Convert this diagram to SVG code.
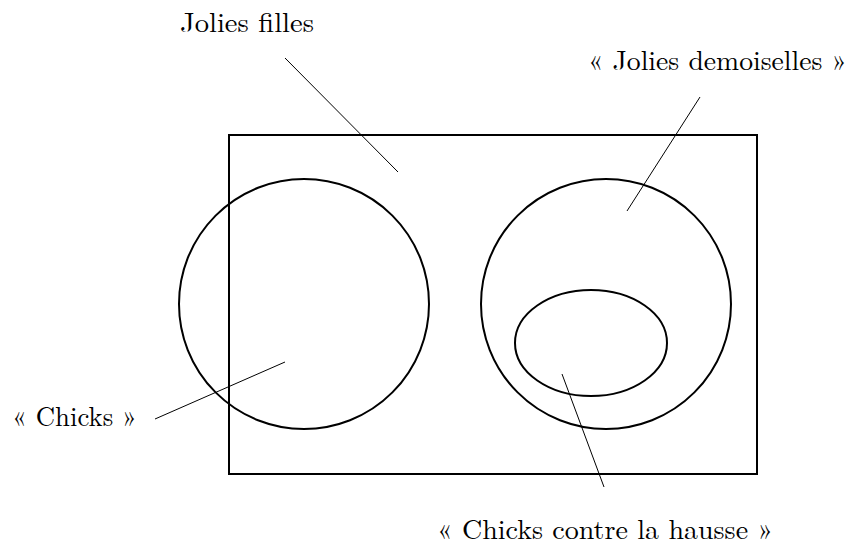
<svg xmlns="http://www.w3.org/2000/svg" width="852" height="546" viewBox="0 0 852 546">
<style>
.shape{fill:none;stroke:#000;stroke-width:2}
.lead{fill:none;stroke:#000;stroke-width:1}
text{font-family:"Latin Modern Roman","CMU Serif","Liberation Serif","DejaVu Serif",serif;font-size:28px;fill:#000}
</style>
<rect width="852" height="546" fill="#fff"/>
<g id="jolies-filles">
<rect class="shape" x="229" y="135" width="528" height="339"/>
<text x="180" y="32" textLength="134" lengthAdjust="spacingAndGlyphs">Jolies filles</text>
</g>
<g id="chicks">
<circle class="shape" cx="304" cy="304" r="125"/>
<text x="12" y="426" textLength="125" lengthAdjust="spacingAndGlyphs">« Chicks »</text>
</g>
<g id="jolies-demoiselles">
<circle class="shape" cx="606" cy="304" r="125"/>
<text x="588" y="70" textLength="259" lengthAdjust="spacingAndGlyphs">« Jolies demoiselles »</text>
</g>
<g id="chicks-contre-la-hausse">
<ellipse class="shape" cx="591" cy="343" rx="76" ry="53"/>
<text x="437" y="539" textLength="336" lengthAdjust="spacingAndGlyphs">« Chicks contre la hausse »</text>
</g>
<g id="connectors">
<line class="lead" x1="285" y1="58" x2="398" y2="172"/>
<line class="lead" x1="700" y1="97" x2="627" y2="211"/>
<line class="lead" x1="155" y1="419" x2="285" y2="362"/>
<line class="lead" x1="562" y1="374" x2="604" y2="487"/>
</g>
</svg>
